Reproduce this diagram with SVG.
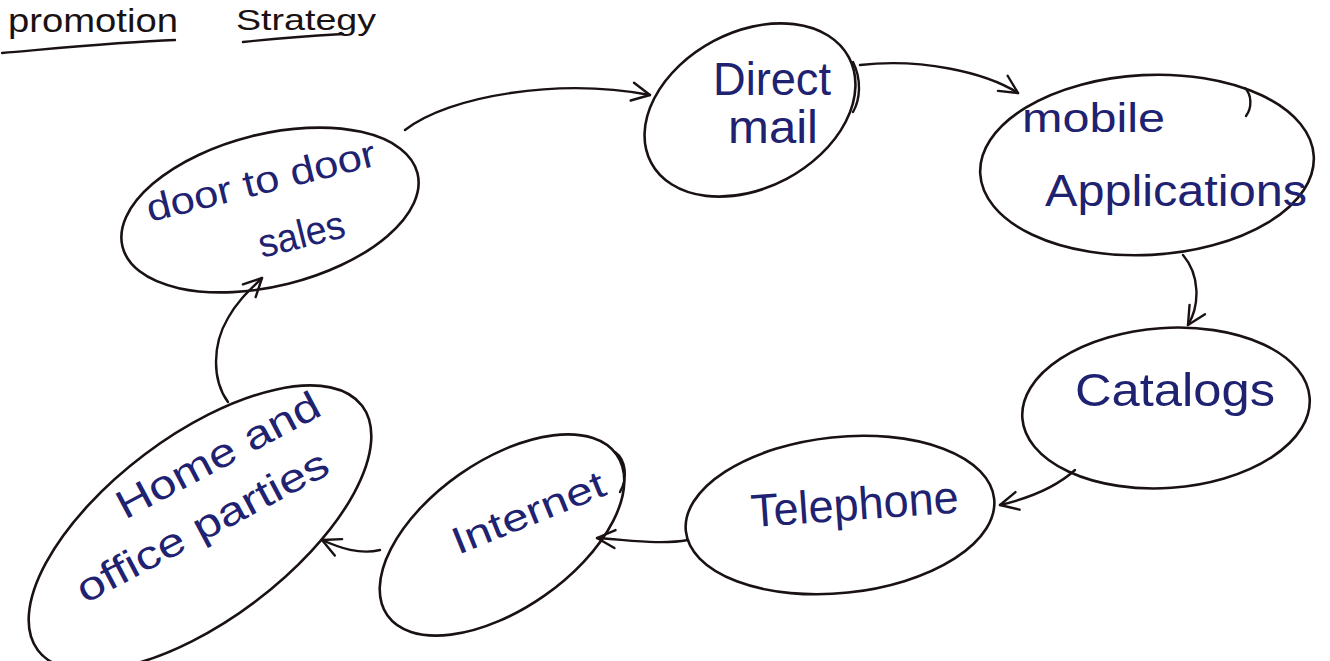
<svg xmlns="http://www.w3.org/2000/svg" width="1330" height="661" viewBox="0 0 1330 661">
  <defs>
    <marker id="arrow" viewBox="0 0 22 22" refX="20" refY="11" markerWidth="22" markerHeight="22" markerUnits="userSpaceOnUse" orient="auto">
      <path d="M2,2 L20,11 L2,20" fill="none" stroke="#1a1212" stroke-width="2.4" stroke-linecap="round" stroke-linejoin="round"/>
    </marker>
    <style>
      .bubble { fill: none; stroke: #1a1212; stroke-width: 2.6; }
      .edge { fill: none; stroke: #1a1212; stroke-width: 2.4; stroke-linecap: round; marker-end: url(#arrow); }
      .ink { fill: none; stroke: #1a1212; stroke-width: 2.4; stroke-linecap: round; }
      .label { font-family: "Liberation Sans", "DejaVu Sans", sans-serif; fill: #1e2270; font-weight: normal; }
      .title { font-family: "Liberation Sans", "DejaVu Sans", sans-serif; fill: #1a1212; }
    </style>
  </defs>
  <rect width="1330" height="661" fill="#ffffff"/>

  <!-- heading with its two underlines -->
  <g id="heading">
    <text class="title" x="8" y="32" font-size="34" textLength="170" lengthAdjust="spacingAndGlyphs">promotion</text>
    <text class="title" x="236" y="30" font-size="30" textLength="140" lengthAdjust="spacingAndGlyphs">Strategy</text>
    <path class="ink" d="M2,53 C60,48 120,42 175,40"/>
    <path class="ink" d="M243,42 C280,38 310,36 343,34"/>
  </g>

  <!-- connectors -->
  <g id="connectors">
    <path class="edge" d="M405,130 C450,95 560,78 650,95"/>
    <path class="edge" d="M860,65 C920,58 985,72 1018,93"/>
    <path class="edge" d="M1183,255 C1200,275 1200,305 1188,325"/>
    <path class="edge" d="M1075,470 C1055,488 1030,498 1000,505"/>
    <path class="edge" d="M688,540 C660,545 630,540 597,538"/>
    <path class="edge" d="M380,550 C360,555 340,548 322,540"/>
    <path class="edge" d="M228,402 C212,380 212,345 228,318 C238,300 250,290 262,278"/>
  </g>

  <g id="node-door">
    <ellipse class="bubble" cx="270" cy="210" rx="152" ry="76" transform="rotate(-14 270 210)"/>
    <text class="label" x="150" y="222" font-size="38" textLength="235" lengthAdjust="spacingAndGlyphs" transform="rotate(-14 150 222)">door to door</text>
    <text class="label" x="262" y="258" font-size="40" textLength="88" lengthAdjust="spacingAndGlyphs" transform="rotate(-14 262 258)">sales</text>
  </g>

  <g id="node-direct-mail">
    <ellipse class="bubble" cx="750" cy="110" rx="112" ry="78" transform="rotate(-28 750 110)"/>
    <path class="ink" d="M853,62 C862,80 860,100 853,112"/>
    <text class="label" x="713" y="95" font-size="46" textLength="118" lengthAdjust="spacingAndGlyphs">Direct</text>
    <text class="label" x="728" y="143" font-size="46" textLength="90" lengthAdjust="spacingAndGlyphs">mail</text>
  </g>

  <g id="node-mobile">
    <ellipse class="bubble" cx="1147" cy="165" rx="167" ry="90" transform="rotate(-3 1147 165)"/>
    <path class="ink" d="M1245,88 C1252,95 1252,108 1246,116"/>
    <text class="label" x="1022" y="132" font-size="40" textLength="143" lengthAdjust="spacingAndGlyphs">mobile</text>
    <text class="label" x="1045" y="206" font-size="44" textLength="262" lengthAdjust="spacingAndGlyphs">Applications</text>
  </g>

  <g id="node-catalogs">
    <ellipse class="bubble" cx="1166" cy="408" rx="144" ry="80" transform="rotate(-4 1166 408)"/>
    <text class="label" x="1075" y="406" font-size="46" textLength="200" lengthAdjust="spacingAndGlyphs">Catalogs</text>
  </g>

  <g id="node-telephone">
    <ellipse class="bubble" cx="840" cy="515" rx="155" ry="78" transform="rotate(-6 840 515)"/>
    <text class="label" x="752" y="527" font-size="46" textLength="208" lengthAdjust="spacingAndGlyphs" transform="rotate(-4 752 527)">Telephone</text>
  </g>

  <g id="node-internet">
    <ellipse class="bubble" cx="502" cy="535" rx="140" ry="74" transform="rotate(-35 502 535)"/>
    <path class="ink" d="M615,452 C626,460 628,478 620,492"/>
    <text class="label" x="458" y="555" font-size="38" textLength="162" lengthAdjust="spacingAndGlyphs" transform="rotate(-22 458 555)">Internet</text>
  </g>

  <g id="node-home">
    <ellipse class="bubble" cx="200" cy="528" rx="203" ry="92" transform="rotate(-37 200 528)"/>
    <text class="label" x="125" y="520" font-size="40" textLength="225" lengthAdjust="spacingAndGlyphs" transform="rotate(-28 125 520)">Home and</text>
    <text class="label" x="85" y="604" font-size="40" textLength="280" lengthAdjust="spacingAndGlyphs" transform="rotate(-28 85 604)">office parties</text>
  </g>
</svg>
